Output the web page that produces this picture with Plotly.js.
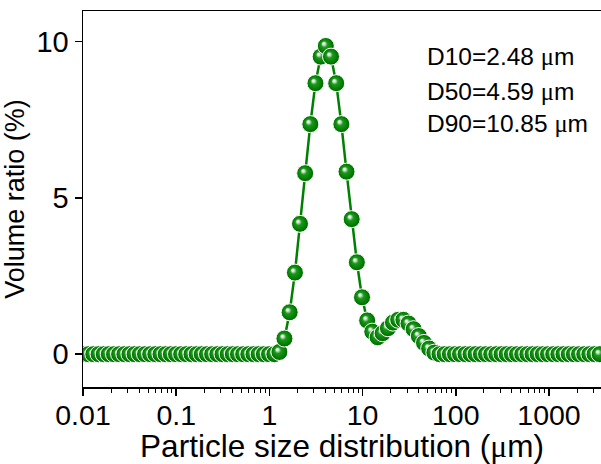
<!DOCTYPE html>
<html><head><meta charset="utf-8">
<script src="https://cdn.plot.ly/plotly-3.0.1.min.js"></script>
<style>html,body{margin:0;padding:0;background:#fff;overflow:hidden}</style>
</head><body><div id="chart" style="width:601px;height:464px"></div>
<script>
// Particle size classes (µm)
const sizes = [0.0100,0.0114,0.0129,0.0147,0.0167,0.0189,0.0215,0.0244,0.0278,0.0315,
  0.0358,0.0407,0.0463,0.0526,0.0597,0.0679,0.0771,0.0876,0.0995,0.113,
  0.128,0.146,0.166,0.188,0.214,0.243,0.276,0.314,0.357,0.405,
  0.460,0.523,0.594,0.675,0.767,0.872,0.991,1.13,1.28,1.45,
  1.65,1.88,2.13,2.42,2.75,3.12,3.55,4.03,4.58,5.21,
  5.92,6.72,7.64,8.68,9.86,11.2,12.7,14.5,16.4,18.7,
  21.2,24.1,27.4,31.1,35.3,40.1,45.6,51.8,58.9,66.9,
  76.0,86.4,98.1,111,127,144,163,186,211,240,
  272,310,352,400,454,516,586,666,756,859,
  976,1110,1260,1430,1630,1850,2100,2390,2710,3080,3500];
// Volume ratio (%)
const volume = [0,0,0,0,0,0,0,0,0,0,
  0,0,0,0,0,0,0,0,0,0,
  0,0,0,0,0,0,0,0,0,0,
  0,0,0,0,0,0,0,0,0.07,0.50,
  1.34,2.61,4.17,5.79,7.36,8.67,9.52,9.86,9.52,8.67,
  7.36,5.84,4.32,2.94,1.82,1.08,0.72,0.54,0.67,0.83,
  1.01,1.10,1.10,0.98,0.80,0.58,0.36,0.18,0.05,0,
  0,0,0,0,0,0,0,0,0,0,
  0,0,0,0,0,0,0,0,0,0,
  0,0,0,0,0,0,0,0,0,0,0];
const xTickVals = [0.01,0.1,1,10,100,1000];
const xTickText = ['0.01','0.1','1','10','100','1000'];
const yTickVals = [0,5,10];
const yTickText = ['0','5','10'];
const notes = ['D10=2.48 ','D50=4.59 ','D90=10.85 '];

const mu = '<span style="font-family:\'Liberation Serif\',serif">μ</span>';
const minorVals = [];
for (let d = -2; d <= 3; d++) for (let k = 2; k <= 9; k++) minorVals.push(k * Math.pow(10, d));

const FONT = "'Liberation Sans', Arial, sans-serif";
const green = 'rgb(0,128,0)';

const trace = {
  x: sizes, y: volume, type: 'scatter', mode: 'lines+markers',
  line: {color: green, width: 2.5},
  marker: {size: 17, color: green, line: {color: '#ffffff', width: 1},
           gradient: {type: 'radial', color: '#ffffff'}},
  cliponaxis: true, hoverinfo: 'skip'
};

const annYs = [0.880, 0.786, 0.700];
const annotations = notes.map((t, i) => ({
  text: t + mu + 'm', xref: 'paper', yref: 'paper', x: 0.66, y: annYs[i],
  xanchor: 'left', yanchor: 'middle', showarrow: false,
  font: {family: FONT, size: 24.5, color: '#000'}
}));

const layout = {
  width: 601, height: 464,
  margin: {l: 83, r: 0, t: 11, b: 77, pad: 0},
  paper_bgcolor: '#fff', plot_bgcolor: '#fff',
  showlegend: false,
  font: {family: FONT, color: '#000'},
  xaxis: {
    type: 'log', range: [-2, Math.log10(3614)],
    tickmode: 'array', tickvals: xTickVals, ticktext: xTickText,
    ticks: 'outside', ticklen: 7, tickwidth: 1.5, tickcolor: '#000',
    minor: {tickmode: 'array', tickvals: minorVals, ticks: 'outside', ticklen: 4, tickwidth: 1, tickcolor: '#000', showgrid: false},
    showline: true, linecolor: '#000', linewidth: 1.5, mirror: true,
    showgrid: false, zeroline: false, ticklabelstandoff: -5,
    tickfont: {family: FONT, size: 28.5, color: '#000'},
    title: {text: 'Particle size distribution (' + mu + 'm)', font: {family: FONT, size: 31.5, color: '#000'}, standoff: 3}
  },
  yaxis: {
    range: [-1.05, 10.98],
    tickmode: 'array', tickvals: yTickVals, ticktext: yTickText,
    ticks: 'outside', ticklen: 7, tickwidth: 1.5, tickcolor: '#000',
    showline: true, linecolor: '#000', linewidth: 1.5, mirror: false,
    showgrid: false, zeroline: false,
    tickfont: {family: FONT, size: 29, color: '#000'},
    title: {text: 'Volume ratio (%)', font: {family: FONT, size: 27, color: '#000'}, standoff: 8}
  },
  annotations: annotations
};

Plotly.newPlot('chart', [trace], layout, {displayModeBar: false, staticPlot: true}).then(gd => {
  const grads = gd.querySelectorAll('radialGradient');
  const stops = [[0, 'rgb(255,255,255)'], [0.15, 'rgb(205,235,205)'], [0.38, 'rgb(30,150,30)'], [0.8, 'rgb(0,126,0)'], [1, 'rgb(0,100,0)']];
  grads.forEach(g => {
    g.setAttribute('cx', '50%'); g.setAttribute('cy', '50%'); g.setAttribute('r', '50%');
    g.setAttribute('fx', '36%'); g.setAttribute('fy', '34%');
    while (g.firstChild) g.removeChild(g.firstChild);
    stops.forEach(s => {
      const st = document.createElementNS('http://www.w3.org/2000/svg', 'stop');
      st.setAttribute('offset', (s[0] * 100) + '%');
      st.setAttribute('stop-color', s[1]);
      st.setAttribute('stop-opacity', '1');
      g.appendChild(st);
    });
  });
});
</script></body></html>
